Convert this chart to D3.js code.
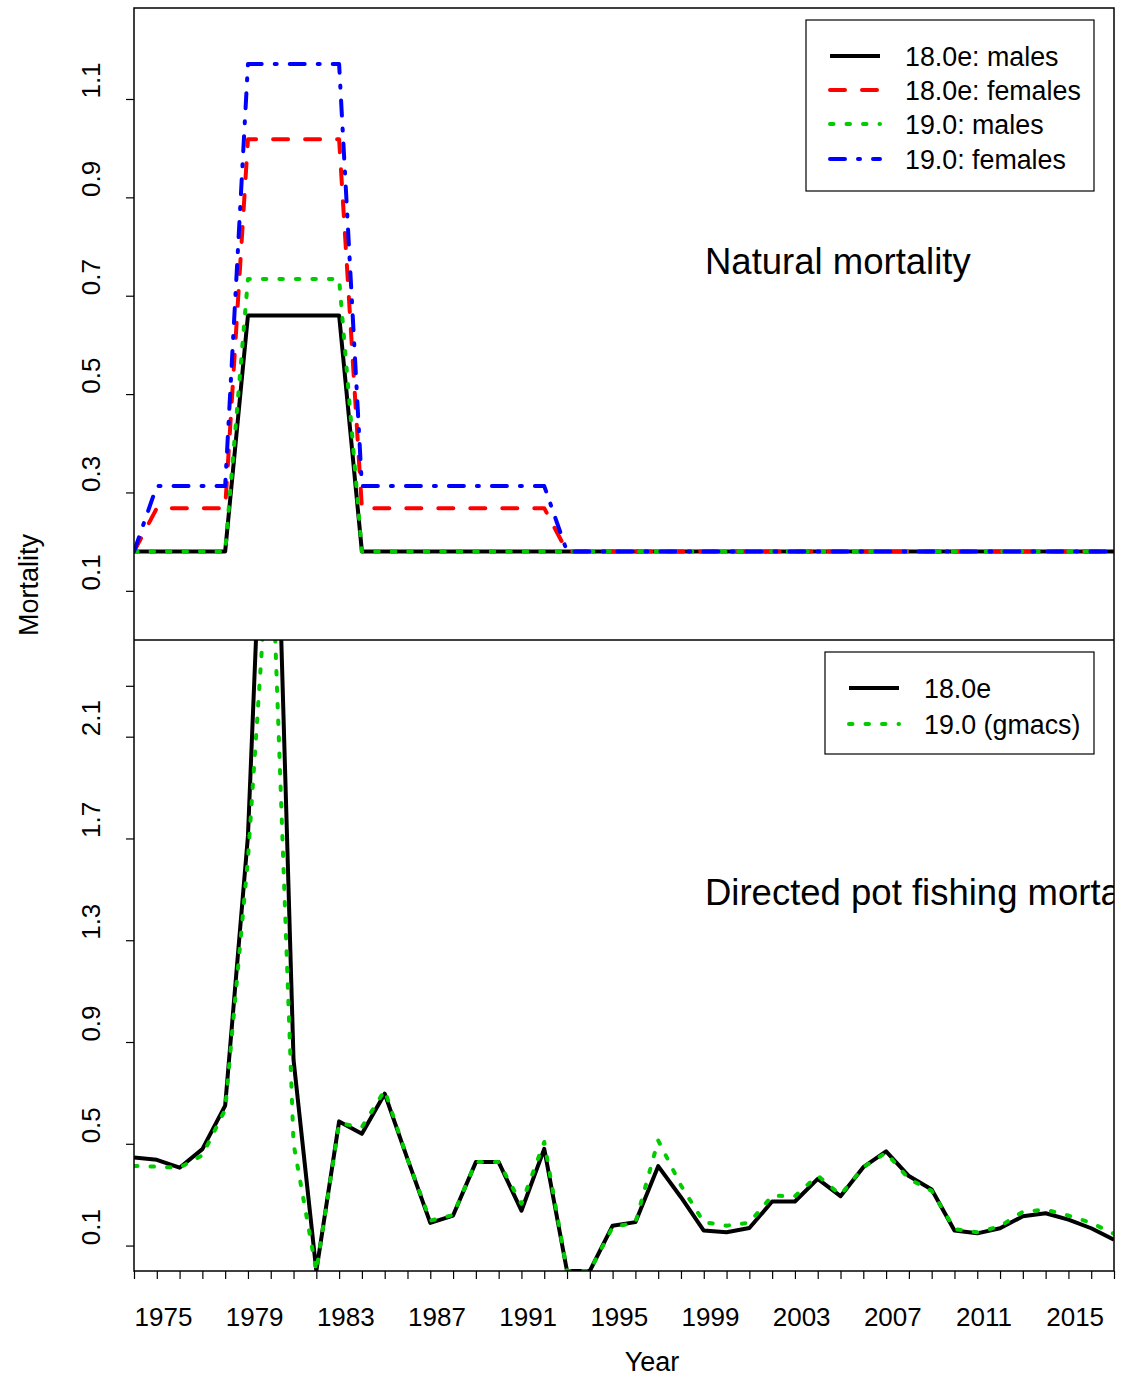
<!DOCTYPE html>
<html>
<head>
<meta charset="utf-8">
<script src="https://cdn.jsdelivr.net/npm/d3@7"></script>
<style>
  body { margin: 0; background: #fff; }
  text { font-family: "Liberation Sans", Arial, sans-serif; fill: #000; }
</style>
</head>
<body>
<script>
// years on the x axis
const years = [1975, 1976, 1977, 1978, 1979, 1980, 1981, 1982, 1983, 1984,
  1985, 1986, 1987, 1988, 1989, 1990, 1991, 1992, 1993, 1994,
  1995, 1996, 1997, 1998, 1999, 2000, 2001, 2002, 2003, 2004,
  2005, 2006, 2007, 2008, 2009, 2010, 2011, 2012, 2013, 2014,
  2015, 2016, 2017, 2018];
const yearLabels = [1975, 1979, 1983, 1987, 1991, 1995, 1999, 2003, 2007, 2011, 2015];

// natural mortality
const m18Males = [0.18, 0.18, 0.18, 0.18, 0.18, 0.66, 0.66, 0.66, 0.66, 0.66,
  0.18, 0.18, 0.18, 0.18, 0.18, 0.18, 0.18, 0.18, 0.18, 0.18,
  0.18, 0.18, 0.18, 0.18, 0.18, 0.18, 0.18, 0.18, 0.18, 0.18,
  0.18, 0.18, 0.18, 0.18, 0.18, 0.18, 0.18, 0.18, 0.18, 0.18,
  0.18, 0.18, 0.18, 0.18];
const m18Females = [0.18, 0.268, 0.268, 0.268, 0.268, 1.018, 1.018, 1.018, 1.018, 1.018,
  0.268, 0.268, 0.268, 0.268, 0.268, 0.268, 0.268, 0.268, 0.268, 0.18,
  0.18, 0.18, 0.18, 0.18, 0.18, 0.18, 0.18, 0.18, 0.18, 0.18,
  0.18, 0.18, 0.18, 0.18, 0.18, 0.18, 0.18, 0.18, 0.18, 0.18,
  0.18, 0.18, 0.18, 0.18];
const m19Males = [0.18, 0.18, 0.18, 0.18, 0.18, 0.734, 0.734, 0.734, 0.734, 0.734,
  0.18, 0.18, 0.18, 0.18, 0.18, 0.18, 0.18, 0.18, 0.18, 0.18,
  0.18, 0.18, 0.18, 0.18, 0.18, 0.18, 0.18, 0.18, 0.18, 0.18,
  0.18, 0.18, 0.18, 0.18, 0.18, 0.18, 0.18, 0.18, 0.18, 0.18,
  0.18, 0.18, 0.18, 0.18];
const m19Females = [0.18, 0.313, 0.313, 0.313, 0.313, 1.171, 1.171, 1.171, 1.171, 1.171,
  0.313, 0.313, 0.313, 0.313, 0.313, 0.313, 0.313, 0.313, 0.313, 0.18,
  0.18, 0.18, 0.18, 0.18, 0.18, 0.18, 0.18, 0.18, 0.18, 0.18,
  0.18, 0.18, 0.18, 0.18, 0.18, 0.18, 0.18, 0.18, 0.18, 0.18,
  0.18, 0.18, 0.18, 0.18];

// directed pot fishing mortality
const f18 = [0.446, 0.437, 0.406, 0.479, 0.65, 1.71, 3.9, 0.83, 0.0, 0.588,
  0.539, 0.697, 0.441, 0.189, 0.218, 0.428, 0.428, 0.237, 0.48, 0.0,
  0.0, 0.178, 0.192, 0.412, 0.29, 0.159, 0.152, 0.169, 0.273, 0.273,
  0.362, 0.294, 0.408, 0.47, 0.373, 0.32, 0.159, 0.148, 0.168, 0.215,
  0.227, 0.202, 0.168, 0.123];
const f19 = [0.413, 0.41, 0.406, 0.455, 0.634, 1.62, 2.97, 0.5, 0.0, 0.58,
  0.566, 0.71, 0.44, 0.198, 0.22, 0.428, 0.428, 0.264, 0.507, 0.0,
  0.0, 0.172, 0.19, 0.513, 0.336, 0.192, 0.178, 0.19, 0.296, 0.294,
  0.375, 0.299, 0.408, 0.465, 0.362, 0.315, 0.165, 0.152, 0.176, 0.233,
  0.241, 0.218, 0.189, 0.146];

const topTicks = [0.1, 0.3, 0.5, 0.7, 0.9, 1.1];
const botTicks = [0.1, 0.5, 0.9, 1.3, 1.7, 2.1, 2.3];
const botLabels = [0.1, 0.5, 0.9, 1.3, 1.7, 2.1];

const left = 134, right = 1114;
const topY0 = 8, midY = 640, botY1 = 1271;

const svg = d3.select("body").append("svg")
  .attr("width", 1128)
  .attr("height", 1376);

const x = d3.scaleLinear().domain([1975, 2018]).range([left, right]);
const yTop = d3.scaleLinear().domain([0, 1.285]).range([midY, topY0]);
const yBot = d3.scaleLinear().domain([0, 2.48]).range([botY1, midY]);

// clip regions
const defs = svg.append("defs");
defs.append("clipPath").attr("id", "clipTop").append("rect")
  .attr("x", left).attr("y", topY0).attr("width", right - left).attr("height", midY - topY0);
defs.append("clipPath").attr("id", "clipBot").append("rect")
  .attr("x", left).attr("y", midY).attr("width", right - left).attr("height", botY1 - midY);

const styles = {
  solid: { color: "#000", dash: null },
  dash: { color: "#ff0000", dash: "15 17" },
  dot: { color: "#00cc00", dash: "3.5 13" },
  dashDot: { color: "#0000ff", dash: "15 13 2 13" }
};

function drawLine(g, values, y, st) {
  const line = d3.line()
    .x((d, i) => x(years[i]))
    .y(d => y(d));
  g.append("path")
    .datum(values)
    .attr("d", line)
    .attr("fill", "none")
    .attr("stroke", st.color)
    .attr("stroke-width", 4)
    .attr("stroke-linecap", st.dash ? "round" : "butt")
    .attr("stroke-linejoin", "round")
    .attr("stroke-dasharray", st.dash);
}

// top panel lines
const gTop = svg.append("g").attr("clip-path", "url(#clipTop)");
drawLine(gTop, m18Males, yTop, styles.solid);
drawLine(gTop, m18Females, yTop, styles.dash);
drawLine(gTop, m19Males, yTop, styles.dot);
drawLine(gTop, m19Females, yTop, styles.dashDot);

// bottom panel lines
const gBot = svg.append("g").attr("clip-path", "url(#clipBot)");
drawLine(gBot, f18, yBot, styles.solid);
drawLine(gBot, f19, yBot, styles.dot);

// frames
svg.append("rect")
  .attr("x", left).attr("y", topY0)
  .attr("width", right - left).attr("height", botY1 - topY0)
  .attr("fill", "none").attr("stroke", "#000").attr("stroke-width", 1.5);
svg.append("line")
  .attr("x1", left).attr("x2", right).attr("y1", midY).attr("y2", midY)
  .attr("stroke", "#000").attr("stroke-width", 1.5);

// y axes (labels sit a little above their ticks, as in the original)
function styleYAxis(g) {
  g.select(".domain").remove();
  g.selectAll(".tick line").attr("stroke", "#000").attr("stroke-width", 1.2);
  g.selectAll(".tick text")
    .attr("x", null).attr("dy", null)
    .attr("transform", "translate(-43,-19) rotate(-90)")
    .attr("text-anchor", "middle")
    .attr("dominant-baseline", "central")
    .style("font-size", "26px")
    .style("font-family", "'Liberation Sans', Arial, sans-serif");
}

svg.append("g")
  .attr("transform", `translate(${left},0)`)
  .call(d3.axisLeft(yTop).tickValues(topTicks).tickSize(8).tickFormat(d3.format(".1f")))
  .call(styleYAxis);

svg.append("g")
  .attr("transform", `translate(${left},0)`)
  .call(d3.axisLeft(yBot).tickValues(botTicks).tickSize(8)
    .tickFormat(d => botLabels.includes(d) ? d3.format(".1f")(d) : ""))
  .call(styleYAxis);

// x axis
const xAxis = svg.append("g")
  .attr("transform", `translate(0,${botY1})`)
  .call(d3.axisBottom(x).tickValues(years).tickSize(8)
    .tickFormat(d => yearLabels.includes(d) ? d : ""));
xAxis.select(".domain").remove();
xAxis.selectAll(".tick line").attr("stroke", "#000").attr("stroke-width", 1.2);
xAxis.selectAll(".tick text")
  .attr("y", 37)
  .attr("dx", 29)
  .style("font-size", "26px")
  .style("font-family", "'Liberation Sans', Arial, sans-serif");

// axis titles
svg.append("text")
  .attr("transform", "translate(29,585) rotate(-90)")
  .attr("text-anchor", "middle")
  .attr("dominant-baseline", "central")
  .style("font-size", "27px")
  .text("Mortality");

svg.append("text")
  .attr("x", 652).attr("y", 1371)
  .attr("text-anchor", "middle")
  .style("font-size", "27px")
  .text("Year");

// panel titles
svg.append("text")
  .attr("x", 705).attr("y", 274)
  .style("font-size", "36.5px")
  .text("Natural mortality");

svg.append("g").attr("clip-path", "url(#clipBot)")
  .append("text")
  .attr("x", 705).attr("y", 905)
  .style("font-size", "36.5px")
  .text("Directed pot fishing mortality");

// legends
function legend(x0, y0, w, h, items) {
  const g = svg.append("g");
  g.append("rect")
    .attr("x", x0).attr("y", y0).attr("width", w).attr("height", h)
    .attr("fill", "#fff").attr("stroke", "#000").attr("stroke-width", 1.2);
  items.forEach(it => {
    g.append("line")
      .attr("x1", x0 + 24).attr("x2", x0 + 74)
      .attr("y1", it.y).attr("y2", it.y)
      .attr("stroke", it.st.color)
      .attr("stroke-width", 4)
      .attr("stroke-linecap", it.st.dash ? "round" : "butt")
      .attr("stroke-dasharray", it.st.dash);
    g.append("text")
      .attr("x", x0 + 99).attr("y", it.y + 1)
      .attr("dominant-baseline", "central")
      .style("font-size", "26.8px")
      .text(it.label);
  });
}

legend(806, 20, 288, 171, [
  { label: "18.0e: males", st: styles.solid, y: 56 },
  { label: "18.0e: females", st: styles.dash, y: 90 },
  { label: "19.0: males", st: styles.dot, y: 124 },
  { label: "19.0: females", st: styles.dashDot, y: 159 }
]);

legend(825, 652, 269, 102, [
  { label: "18.0e", st: styles.solid, y: 688 },
  { label: "19.0 (gmacs)", st: styles.dot, y: 724 }
]);
</script>
</body>
</html>
